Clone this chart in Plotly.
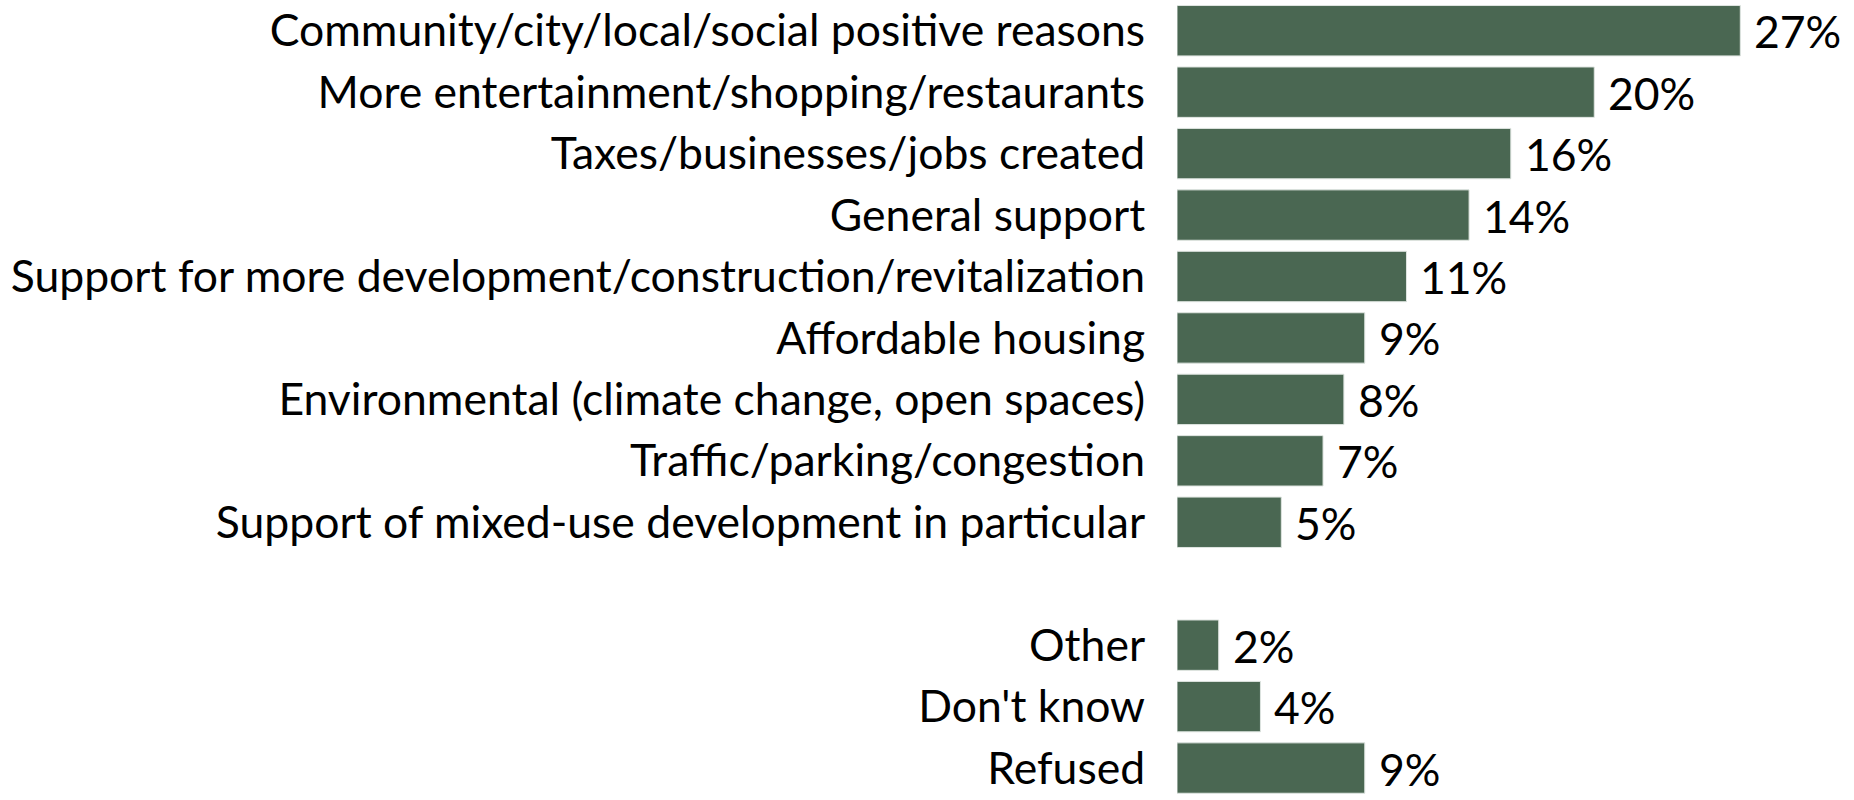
import plotly.graph_objects as go

categories = [
    "Community/city/local/social positive reasons",
    "More entertainment/shopping/restaurants",
    "Taxes/businesses/jobs created",
    "General support",
    "Support for more development/construction/revitalization",
    "Affordable housing",
    "Environmental (climate change, open spaces)",
    "Traffic/parking/congestion",
    "Support of mixed-use development in particular",
    "Other",
    "Don't know",
    "Refused",
]
values = [27, 20, 16, 14, 11, 9, 8, 7, 5, 2, 4, 9]
labels = [f"{v}%" for v in values]
spacer = " "
category_order = categories[:9] + [spacer] + categories[9:]

BAR_COLOR = "#4A6752"
FONT = "Lato"
FS = 44.5

fig = go.Figure()
fig.add_trace(go.Bar(
    x=values, y=categories, orientation="h",
    marker=dict(color=BAR_COLOR, line=dict(color="#dfe5e1", width=1)),
    hoverinfo="skip",
))
for c, v, t in zip(categories, values, labels):
    fig.add_annotation(x=v, y=c, text=t, showarrow=False, xanchor="left",
                       xshift=12, yshift=0, font=dict(family=FONT, size=FS, color="black"))

fig.update_layout(
    width=1854, height=800,
    margin=dict(l=1177, r=0, t=0, b=0),
    paper_bgcolor="white", plot_bgcolor="white",
    bargap=0.18,
    showlegend=False,
    font=dict(family=FONT, size=FS, color="black"),
)
fig.update_xaxes(range=[0, 32.45], visible=False)
fig.update_yaxes(type="category", categoryorder="array", categoryarray=category_order,
                 range=[12.52, -0.5],
                 ticks="outside", ticklen=22, tickcolor="rgba(0,0,0,0)",
                 showline=False, showgrid=False, automargin=False,
                 tickfont=dict(family=FONT, size=FS, color="black"))

fig.write_html("out.html", config={"displayModeBar": False},
               post_script="document.body.style.margin='0';")
